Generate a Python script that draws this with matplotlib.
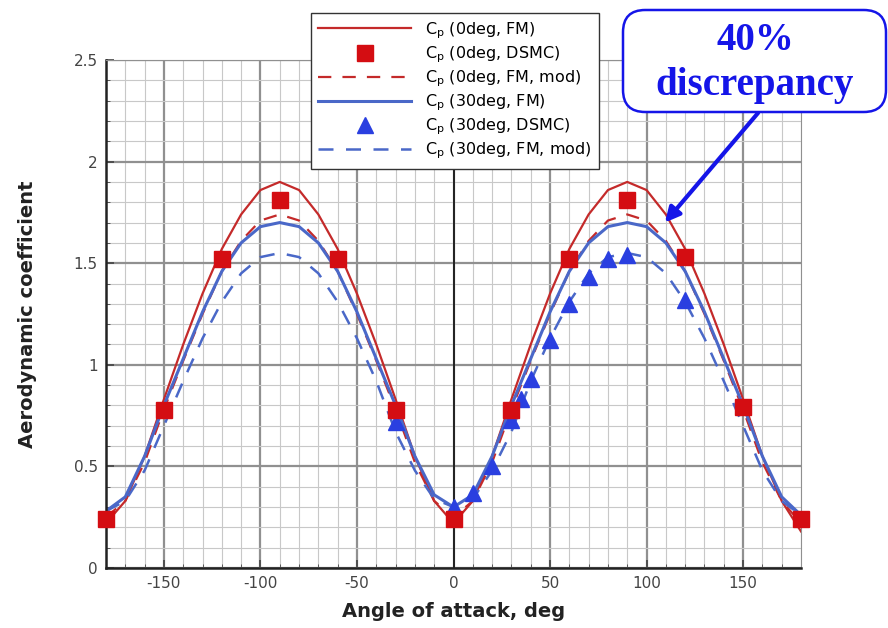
import numpy as np
import matplotlib.pyplot as plt
from matplotlib.ticker import MultipleLocator
from matplotlib.patches import FancyBboxPatch

plt.rcParams['axes.unicode_minus'] = False

# angles for the model curves, every 10 deg
alpha = [-180, -170, -160, -150, -140, -130, -120, -110, -100, -90,
         -80, -70, -60, -50, -40, -30, -20, -10, 0,
         10, 20, 30, 40, 50, 60, 70, 80, 90,
         100, 110, 120, 130, 140, 150, 160, 170, 180]

# Cp, 0 deg, free molecular
cp0_fm = [0.22, 0.33, 0.55, 0.83, 1.10, 1.35, 1.57, 1.74, 1.86, 1.90,
          1.86, 1.74, 1.57, 1.35, 1.10, 0.83, 0.55, 0.33, 0.22,
          0.33, 0.55, 0.83, 1.10, 1.35, 1.57, 1.74, 1.86, 1.90,
          1.86, 1.74, 1.57, 1.35, 1.10, 0.83, 0.55, 0.33, 0.18]
# Cp, 0 deg, FM modified
cp0_mod = [0.25, 0.33, 0.52, 0.78, 1.02, 1.25, 1.46, 1.61, 1.71, 1.74,
           1.71, 1.61, 1.46, 1.25, 1.02, 0.78, 0.52, 0.33, 0.25,
           0.33, 0.52, 0.78, 1.02, 1.25, 1.46, 1.61, 1.71, 1.74,
           1.71, 1.61, 1.46, 1.25, 1.02, 0.78, 0.52, 0.33, 0.22]
# Cp, 30 deg, free molecular
cp30_fm = [0.28, 0.35, 0.55, 0.80, 1.03, 1.26, 1.46, 1.60, 1.68, 1.70,
           1.68, 1.60, 1.46, 1.26, 1.03, 0.80, 0.55, 0.36, 0.30,
           0.36, 0.55, 0.80, 1.03, 1.26, 1.46, 1.60, 1.68, 1.70,
           1.68, 1.60, 1.46, 1.26, 1.03, 0.80, 0.55, 0.35, 0.26]
# Cp, 30 deg, FM modified
cp30_mod = [0.28, 0.33, 0.48, 0.70, 0.92, 1.13, 1.31, 1.45, 1.53, 1.55,
            1.53, 1.45, 1.31, 1.13, 0.92, 0.67, 0.48, 0.34, 0.30,
            0.34, 0.48, 0.67, 0.92, 1.13, 1.31, 1.45, 1.53, 1.55,
            1.53, 1.45, 1.31, 1.13, 0.92, 0.70, 0.48, 0.33, 0.26]

# DSMC points
a0_dsmc = [-180, -150, -120, -90, -60, -30, 0, 30, 60, 90, 120, 150, 180]
cp0_dsmc = [0.24, 0.78, 1.52, 1.81, 1.52, 0.78, 0.24, 0.78, 1.52, 1.81, 1.53, 0.79, 0.24]

a30_dsmc = [-30, 0, 10, 20, 30, 35, 40, 50, 60, 70, 80, 90, 120]
cp30_dsmc = [0.72, 0.30, 0.37, 0.50, 0.73, 0.83, 0.93, 1.12, 1.30, 1.43, 1.52, 1.54, 1.32]

xticks = [-150, -100, -50, 0, 50, 100, 150]
yticks = [0, 0.5, 1, 1.5, 2, 2.5]

red = '#c42a2a'
blue = '#4a68c8'
ann_blue = '#1515e8'

W, H = 888, 628
fig = plt.figure(figsize=(W / 100, H / 100), dpi=100)
ax = fig.add_axes([106 / W, 60 / H, 695 / W, 508 / H])

ax.plot(alpha, cp0_fm, '-', color=red, lw=1.6, label=r'C$_\mathrm{p}$ (0deg, FM)')
ax.plot(a0_dsmc, cp0_dsmc, 's', color='#d40d12', ms=12, mec='#d40d12',
        label=r'C$_\mathrm{p}$ (0deg, DSMC)', clip_on=False, zorder=5)
ax.plot(alpha, cp0_mod, '--', color=red, lw=1.6, dashes=(6, 5), label=r'C$_\mathrm{p}$ (0deg, FM, mod)')
ax.plot(alpha, cp30_fm, '-', color=blue, lw=2.2, label=r'C$_\mathrm{p}$ (30deg, FM)')
ax.plot(a30_dsmc, cp30_dsmc, '^', color='#2a3fe0', ms=11,
        label=r'C$_\mathrm{p}$ (30deg, DSMC)', zorder=4)
ax.plot(alpha, cp30_mod, '--', color=blue, lw=1.8, dashes=(6, 5), label=r'C$_\mathrm{p}$ (30deg, FM, mod)')

ax.set_xlim(-180, 180)
ax.set_ylim(0, 2.5)
ax.set_xticks(xticks)
ax.set_yticks(yticks)
ax.set_yticklabels(['0', '0.5', '1', '1.5', '2', '2.5'])
ax.xaxis.set_minor_locator(MultipleLocator(10))
ax.yaxis.set_minor_locator(MultipleLocator(0.1))
ax.grid(which='major', color='#909090', lw=1.6)
ax.grid(which='minor', color='#c8c8c8', lw=0.8)
ax.axvline(0, color='#222222', lw=1.4, zorder=1)
ax.set_axisbelow(True)
ax.tick_params(which='both', direction='in', labelsize=11, colors='#444444')
ax.tick_params(which='major', length=6, width=1.2, pad=6)
ax.tick_params(which='minor', length=3)
for s in ['left', 'bottom']:
    ax.spines[s].set_color('#222222')
    ax.spines[s].set_linewidth(1.8)
for s in ['top', 'right']:
    ax.spines[s].set_color('#909090')

ax.set_xlabel('Angle of attack, deg', fontsize=14, fontweight='bold', color='#222222', labelpad=8)
ax.set_ylabel('Aerodynamic coefficient', fontsize=14, fontweight='bold', color='#222222', labelpad=26)

leg = fig.legend(loc='upper center', bbox_to_anchor=(455 / W, 1 - 13 / H), fontsize=11.5,
                 handlelength=5.8, handletextpad=0.9, labelspacing=0.22, borderpad=0.45,
                 borderaxespad=0, fancybox=False, edgecolor='#333333', framealpha=1)
leg.get_frame().set_linewidth(1.0)

# callout box
box = FancyBboxPatch((623 / W, 1 - 112 / H), 263 / W, 102 / H,
                     boxstyle='round,pad=0,rounding_size=0.025', transform=fig.transFigure,
                     fc='white', ec=ann_blue, lw=1.8, zorder=10, mutation_aspect=W / H)
fig.patches.append(box)
fig.text(755 / W, 1 - 40 / H, '40%', ha='center', va='center', fontsize=28,
         fontweight='bold', family='Liberation Serif', color=ann_blue, zorder=11)
fig.text(755 / W, 1 - 85 / H, 'discrepancy', ha='center', va='center', fontsize=28,
         fontweight='bold', family='Liberation Serif', color=ann_blue, zorder=11)

ax.annotate('', xy=(109.5, 1.70), xycoords='data',
            xytext=(758 / W, 1 - 113 / H), textcoords='figure fraction',
            arrowprops=dict(arrowstyle='-|>', color=ann_blue, lw=3,
                            mutation_scale=22, shrinkA=0, shrinkB=0),
            annotation_clip=False)

fig.savefig('out.png', dpi=100)
